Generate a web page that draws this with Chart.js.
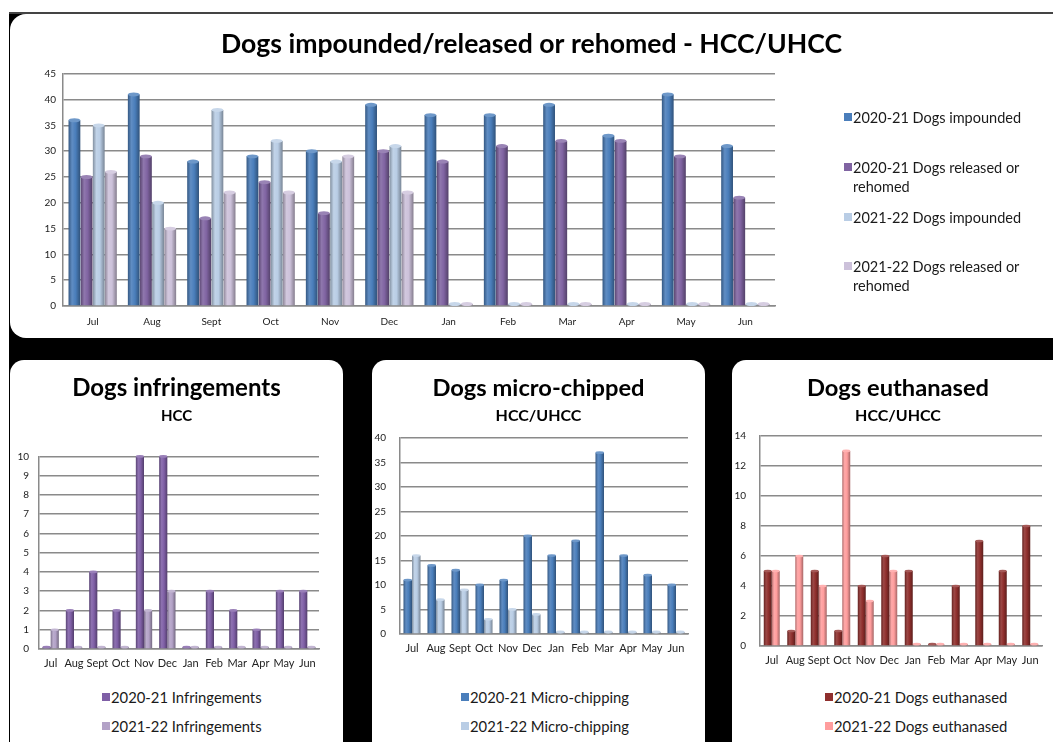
<!DOCTYPE html>
<html><head><meta charset="utf-8">
<script src="https://cdn.jsdelivr.net/npm/chart.js@4.4.0/dist/chart.umd.min.js"></script>
<style>
html,body{margin:0;padding:0;background:#fff;}
body{width:1053px;height:742px;overflow:hidden;position:relative;font-family:Lato,"Open Sans",sans-serif;}
#bg{position:absolute;left:9px;top:13px;width:1044px;height:729px;background:#000;}
#topline{position:absolute;left:9px;top:12px;width:1044px;height:2px;background:#444;}
.panel{position:absolute;background:#fff;}
canvas{position:absolute;}
.leg{position:absolute;font-size:14.5px;color:#1a1a1a;line-height:19px;white-space:nowrap;}
.leg.small{font-size:14.8px;}
.leg .sq{position:absolute;left:-9px;top:5px;width:8px;height:8px;}
</style></head>
<body>
<div id="bg"></div>
<div id="topline"></div>
<div class="panel" style="left:10px;top:14px;width:1070px;height:324px;border-radius:16px;"></div>
<div class="panel" style="left:10px;top:360px;width:333px;height:420px;border-radius:14px;"></div>
<div class="panel" style="left:372px;top:360px;width:333px;height:420px;border-radius:14px;"></div>
<div class="panel" style="left:732px;top:360px;width:340px;height:420px;border-radius:14px;"></div>

<canvas id="cTop" width="1043" height="325" style="left:10px;top:13px;"></canvas>
<canvas id="cInf" width="333" height="310" style="left:10px;top:360px;"></canvas>
<canvas id="cChip" width="333" height="310" style="left:372px;top:360px;"></canvas>
<canvas id="cEuth" width="332" height="310" style="left:732px;top:360px;"></canvas>
<div id="legends"></div>

<script>
// ---------- DATA ----------
const months = ['Jul','Aug','Sept','Oct','Nov','Dec','Jan','Feb','Mar','Apr','May','Jun'];

const impounded2021 = [36,41,28,29,30,39,37,37,39,33,41,31];
const released2021  = [25,29,17,24,18,30,28,31,32,32,29,21];
const impounded2122 = [35,20,38,32,28,31,0,0,0,0,0,0];
const released2122  = [26,15,22,22,29,22,0,0,0,0,0,0];

const infringe2021 = [0,2,4,2,10,10,0,3,2,1,3,3];
const infringe2122 = [1,0,0,0,2,3,0,0,0,0,0,0];

const chip2021 = [11,14,13,10,11,20,16,19,37,16,12,10];
const chip2122 = [16,7,9,3,5,4,0,0,0,0,0,0];

const euth2021 = [5,1,5,1,4,6,5,0,4,7,5,8];
const euth2122 = [5,6,4,13,3,5,0,0,0,0,0,0];

const topLabels  = ['2020-21 Dogs impounded', ['2020-21 Dogs released or','rehomed'], '2021-22 Dogs impounded', ['2021-22 Dogs released or','rehomed']];
const infLabels  = ['2020-21 Infringements','2021-22 Infringements'];
const chipLabels = ['2020-21 Micro-chipping','2021-22 Micro-chipping'];
const euthLabels = ['2020-21 Dogs euthanased','2021-22 Dogs euthanased'];

const topTitle = 'Dogs impounded/released or rehomed - HCC/UHCC';
const infTitle = ['Dogs infringements','HCC'];
const chipTitle = ['Dogs micro-chipped','HCC/UHCC'];
const euthTitle = ['Dogs euthanased','HCC/UHCC'];

// ---------- STYLE ----------
const FONT = 'Lato, "Open Sans", sans-serif';
const colTop  = ['#4a7ebb','#8064a2','#b9cde5','#ccc1da'];
const colInf  = ['#7f5fa6','#b3a2c7'];
const colChip = ['#4a7ebb','#b9cde5'];
const colEuth = ['#8f2f2d','#ff9d9d'];

function hexRgb(h){h=h.replace('#','');return [parseInt(h.substr(0,2),16),parseInt(h.substr(2,2),16),parseInt(h.substr(4,2),16)];}
function shade(h,f){const c=hexRgb(h);return 'rgb('+c.map(v=>Math.round(f<0?v*(1+f):v+(255-v)*f)).join(',')+')';}

const cylinder = {
  id:'cylinder',
  beforeDatasetsDraw(chart){
    const ctx=chart.ctx;
    chart.data.datasets.forEach((ds,i)=>{
      const meta=chart.getDatasetMeta(i);
      const base=ds.backgroundColor;
      meta.data.forEach(el=>{
        const w=el.width, x0=el.x-w/2;
        const g=ctx.createLinearGradient(x0,0,x0+w,0);
        g.addColorStop(0,shade(base,-0.3));
        g.addColorStop(0.3,shade(base,0.12));
        g.addColorStop(0.6,base);
        g.addColorStop(1,shade(base,-0.35));
        el.options=Object.assign({},el.options,{backgroundColor:g});
      });
    });
  },
  afterDatasetsDraw(chart){
    const ctx=chart.ctx;
    chart.data.datasets.forEach((ds,i)=>{
      const meta=chart.getDatasetMeta(i);
      const base=ds.backgroundColor;
      meta.data.forEach(el=>{
        const w=el.width;
        ctx.save();
        ctx.beginPath();
        ctx.ellipse(el.x,el.y,w/2,Math.min(2,w/6),0,0,Math.PI*2);
        ctx.fillStyle=shade(base,0.2);
        ctx.fill();
        ctx.restore();
      });
    });
  }
};

function makeChart(id, labels, series, colors, opts){
  const datasets = series.map((d,i)=>({
    label: Array.isArray(opts.legend[i]) ? opts.legend[i].join(' ') : opts.legend[i],
    data: d, backgroundColor: colors[i], borderWidth:0,
    categoryPercentage: opts.cat, barPercentage: opts.bar, minBarLength:2
  }));
  return new Chart(document.getElementById(id), {
    type:'bar',
    data:{labels, datasets},
    plugins:[cylinder],
    options:{
      responsive:false, animation:false,
      layout:{padding:0},
      plugins:{
        legend:{display:false}, tooltip:{enabled:false},
        title:{display:true,text:opts.title,color:'#000',font:{family:FONT,size:opts.titleSize,weight:'bold',lineHeight:1.2},padding:opts.titlePad},
        subtitle:{display:!!opts.subtitle,text:opts.subtitle||'',color:'#000',font:{family:FONT,size:opts.subSize||14,weight:'bold',lineHeight:1.2},padding:opts.subPad||0}
      },
      scales:{
        x:{
          grid:{display:false,drawTicks:false},
          border:{display:true,color:'#8a8a8a',width:1.5},
          ticks:{color:'#222',font:{family:FONT,size:opts.xFont},padding:opts.xPad,maxRotation:0,autoSkip:false},
          afterFit(s){s.height=opts.xH;}
        },
        y:{
          min:0,max:opts.yMax,
          grid:{color:'#8a8a8a',lineWidth:1.5,drawTicks:false},
          border:{display:true,color:'#8a8a8a',width:1.5},
          ticks:{stepSize:opts.yStep,color:'#222',font:{family:FONT,size:opts.yFont},padding:opts.yPad},
          afterFit(s){s.width=opts.yW;}
        },
        yRight:{
          type:'linear', position:'right', display:true, min:0, max:1,
          grid:{display:false,drawTicks:false}, border:{display:false},
          ticks:{display:false},
          afterFit(s){s.width=opts.padRight;}
        }
      }
    }
  });
}

makeChart('cTop', months, [impounded2021,released2021,impounded2122,released2122], colTop, {
  legend:topLabels, cat:0.82, bar:0.97, padRight:278,
  title:topTitle, titleSize:26.6, titlePad:{top:15,bottom:13.9},
  xFont:10, xPad:10, xH:32, yMax:45, yStep:5, yFont:10, yPad:7, yW:53
});
makeChart('cInf', months, [infringe2021,infringe2122], colInf, {
  legend:infLabels, cat:0.7, bar:1.0, padRight:24,
  title:infTitle[0], titleSize:24, titlePad:{top:13.6,bottom:0},
  subtitle:infTitle[1], subSize:15, subPad:{top:5,bottom:31},
  xFont:11, xPad:8, xH:21, yMax:10, yStep:1, yFont:10, yPad:10, yW:29
});
makeChart('cChip', months, [chip2021,chip2122], colChip, {
  legend:chipLabels, cat:0.71, bar:1.0, padRight:17,
  title:chipTitle[0], titleSize:23.7, titlePad:{top:13.8,bottom:0},
  subtitle:chipTitle[1], subSize:16, subPad:{top:4.5,bottom:12},
  xFont:11, xPad:8, xH:36, yMax:40, yStep:5, yFont:10, yPad:14, yW:28
});
makeChart('cEuth', months, [euth2021,euth2122], colEuth, {
  legend:euthLabels, cat:0.68, bar:1.0, padRight:22,
  title:euthTitle[0], titleSize:23.7, titlePad:{top:13.8,bottom:0},
  subtitle:euthTitle[1], subSize:16, subPad:{top:4.5,bottom:10},
  xFont:11, xPad:8, xH:24, yMax:14, yStep:2, yFont:10, yPad:14, yW:28
});

// ---------- HTML legends ----------
const legHost=document.getElementById('legends');
function addLegend(labels, colors, x, ys, cls){
  labels.forEach((lab,i)=>{
    const d=document.createElement('div');
    d.className='leg'+(cls?' '+cls:'');
    d.style.left=x+'px'; d.style.top=(ys[i]-9.5)+'px';
    const sq=document.createElement('span'); sq.className='sq'; sq.style.background=colors[i];
    d.appendChild(sq);
    const lines=Array.isArray(lab)?lab:[lab];
    lines.forEach((ln,j)=>{ if(j) d.appendChild(document.createElement('br')); d.appendChild(document.createTextNode(ln)); });
    legHost.appendChild(d);
  });
}
addLegend(topLabels, colTop, 853, [117,167,217,266]);
addLegend(infLabels, colInf, 111, [697,726], 'small');
addLegend(chipLabels, colChip, 470, [697,726], 'small');
addLegend(euthLabels, colEuth, 834, [697,726], 'small');
</script>
</body></html>
